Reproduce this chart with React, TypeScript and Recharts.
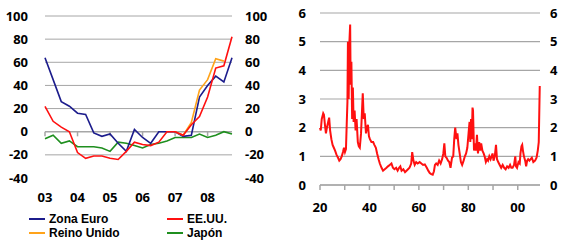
import {
  LineChart,
  Line,
  XAxis,
  YAxis,
  CartesianGrid,
  ReferenceLine,
} from "recharts";

// left panel: quarterly, 2003Q1 - 2008Q4
const quarters = [
  "03-1", "03-2", "03-3", "03-4",
  "04-1", "04-2", "04-3", "04-4",
  "05-1", "05-2", "05-3", "05-4",
  "06-1", "06-2", "06-3", "06-4",
  "07-1", "07-2", "07-3", "07-4",
  "08-1", "08-2", "08-3", "08-4",
];
const yearStarts = ["03-1", "04-1", "05-1", "06-1", "07-1", "08-1"];
const zonaEuro = [64, 45, 26, 22, 16, 15, -1, -4, -2, -10, -17, 2, -5, -10, 0, 0, 0, -4, -3, 30, 40, 48, 43, 64];
const eeuu = [22, 9, 4, 0, -18, -23, -21, -21, -23, -24, -17, -9, -11, -12, -9, 0, 0, -3, 6, 13, 30, 55, 57, 82];
const reinoUnido = [null, null, null, null, null, null, null, null, null, null, null, null, null, null, null, null, 0, -3, 8, 36, 45, 63, 61, null];
const japon = [-6, -3, -10, -8, -13, -13, -13, -14, -17, -9, -10, -12, -14, -11, -10, -8, -5, -5, -5, -2, -5, -3, 0, -2];
const leftTicks = [-40, -20, 0, 20, 40, 60, 80, 100];
const leftGrid = [-20, 20, 40, 60, 80, 100];

// right panel: long history
const ratioYears = [
  1920.0, 1920.3, 1920.7, 1921.3, 1921.6, 1922.0, 1922.4, 1922.8, 1923.3, 1923.7,
  1924.1, 1924.6, 1925.1, 1925.6, 1926.1, 1926.7, 1927.3, 1927.8, 1928.3, 1928.8,
  1929.3, 1929.7, 1930.1, 1930.5, 1930.8, 1931.1, 1931.3, 1931.6, 1931.9, 1932.2,
  1932.4, 1932.7, 1933.0, 1933.3, 1933.6, 1934.0, 1934.4, 1934.8, 1935.3, 1935.7,
  1936.1, 1936.6, 1937.0, 1937.3, 1937.7, 1938.1, 1938.6, 1939.0, 1939.4, 1939.8,
  1940.2, 1940.8, 1941.5, 1942.0, 1942.6, 1943.1, 1943.7, 1944.2, 1944.9, 1945.5,
  1946.2, 1946.9, 1947.5, 1948.2, 1948.9, 1949.5, 1950.1, 1950.8, 1951.4, 1952.0,
  1952.5, 1953.0, 1953.7, 1954.4, 1955.0, 1955.6, 1956.2, 1956.9, 1957.3, 1957.8,
  1958.3, 1958.9, 1959.5, 1960.3, 1961.0, 1961.7, 1962.4, 1963.2, 1963.8, 1964.4,
  1965.0, 1965.6, 1966.1, 1966.5, 1967.0, 1967.6, 1968.2, 1968.8, 1969.4, 1969.9,
  1970.3, 1970.7, 1971.2, 1971.8, 1972.3, 1972.8, 1973.4, 1973.9, 1974.3, 1974.7,
  1975.2, 1975.6, 1976.0, 1976.5, 1977.0, 1977.5, 1978.1, 1978.6, 1979.1, 1979.6,
  1980.1, 1980.5, 1980.8, 1981.1, 1981.4, 1981.7, 1981.9, 1982.3, 1982.7, 1983.1,
  1983.5, 1983.9, 1984.4, 1984.8, 1985.2, 1985.7, 1986.2, 1986.6, 1987.1, 1987.6,
  1988.0, 1988.5, 1989.0, 1989.4, 1989.8, 1990.2, 1990.7, 1991.2, 1991.6, 1992.1,
  1992.7, 1993.3, 1993.9, 1994.5, 1995.1, 1995.7, 1996.3, 1996.9, 1997.4, 1997.9,
  1998.5, 1999.0, 1999.3, 1999.7, 2000.3, 2000.8, 2001.1, 2001.5, 2001.8, 2002.1,
  2002.5, 2003.0, 2003.4, 2003.8, 2004.2, 2004.7, 2005.2, 2005.7, 2006.3, 2007.0,
  2007.6, 2008.1, 2008.5, 2008.9,
];
const ratioValues = [
  2.0, 1.9, 2.3, 2.5, 2.45, 2.1, 1.8, 2.0, 2.2, 2.35,
  1.9, 1.6, 1.4, 1.3, 1.2, 1.05, 0.95, 0.85, 0.9, 1.0,
  1.15, 1.3, 1.15, 1.25, 2.1, 2.9, 5.0, 3.0, 5.0, 5.6,
  3.5, 4.3, 2.3, 3.4, 2.2, 2.6, 1.9, 2.3, 1.5, 1.35,
  1.3, 1.8, 2.6, 3.2, 2.3, 2.5, 1.8, 2.0, 2.1, 1.7,
  1.6, 1.5, 1.5, 1.4, 1.3, 1.1, 0.9, 0.75, 0.6, 0.5,
  0.55, 0.6, 0.65, 0.7, 0.75, 0.6, 0.55, 0.6, 0.5, 0.6,
  0.65, 0.5, 0.55, 0.45, 0.5, 0.55, 0.6, 0.75, 1.15, 0.85,
  0.7, 0.8, 0.75, 0.8, 0.75, 0.7, 0.72, 0.6, 0.5, 0.42,
  0.38, 0.36, 0.48, 0.7, 0.75, 0.7, 0.85, 0.75, 0.9, 1.1,
  1.45, 1.0, 0.95, 0.85, 0.8, 0.6, 0.95, 1.0, 1.6, 2.0,
  1.6, 1.8, 1.4, 1.1, 0.8, 0.7, 0.85, 1.0, 1.1, 1.3,
  1.8, 2.2, 1.5, 2.3, 1.6, 2.7, 2.6, 1.2, 1.45, 1.2,
  1.75, 1.1, 1.5, 1.2, 1.45, 1.2, 1.1, 1.0, 0.8, 0.9,
  0.85, 1.0, 0.9, 1.0, 1.1, 0.85, 1.0, 1.4, 0.9, 0.8,
  0.7, 0.6, 0.7, 0.6, 0.55, 0.65, 0.6, 0.7, 0.6, 0.6,
  0.7, 1.0, 0.65, 0.6, 0.8, 0.75, 1.1, 1.35, 1.4, 1.2,
  1.0, 0.85, 0.65, 0.85, 0.9, 0.85, 0.9, 0.95, 0.8, 0.85,
  0.95, 1.2, 1.5, 3.45,
];
const decadeTicks = [1920, 1930, 1940, 1950, 1960, 1970, 1980, 1990, 2000];
const labelledDecades = [1920, 1940, 1960, 1980, 2000];
const rightTicks = [0, 1, 2, 3, 4, 5, 6];

const FONT = "'Open Sans', sans-serif";
const tickStyle = { fill: "#000", fontSize: 13, fontWeight: 700, fontFamily: FONT };
const GRID = "#a6a6a6";

const leftData = quarters.map((q, i) => ({
  q,
  zona: zonaEuro[i],
  eeuu: eeuu[i],
  uk: reinoUnido[i],
  jp: japon[i],
}));

const rightData = ratioYears.map((y, i) => ({ year: y, v: ratioValues[i] }));

const legendItems = [
  { name: "Zona Euro", color: "#1c1c8c" },
  { name: "EE.UU.", color: "#ff1010" },
  { name: "Reino Unido", color: "#ffa31a" },
  { name: "Japón", color: "#1f8f1f" },
];

function LegendBlock() {
  return (
    <div
      style={{
        position: "absolute",
        left: 29,
        top: 212,
        display: "grid",
        gridTemplateColumns: "138px 120px",
        fontFamily: "'Liberation Sans', Arial, sans-serif",
        fontWeight: 700,
        fontSize: 12,
        lineHeight: "14px",
      }}
    >
      {legendItems.map((it) => (
        <div key={it.name} style={{ display: "flex", alignItems: "center", height: 14 }}>
          <span style={{ width: 16, height: 2, background: it.color, marginRight: 4 }} />
          <span>{it.name}</span>
        </div>
      ))}
    </div>
  );
}

export default function App() {
  return (
    <div
      style={{
        position: "absolute",
        left: 0,
        top: 0,
        width: 572,
        height: 241,
        background: "#fff",
        overflow: "hidden",
      }}
    >
      <div style={{ position: "absolute", left: 0, top: 0 }}>
        <LineChart width={290} height={210} data={leftData} margin={{ top: 16, right: 0, bottom: 2, left: 0 }}>
          <XAxis
            dataKey="q"
            interval={3}
            axisLine={false}
            tickLine={false}
            tickSize={0}
            tickMargin={15}
            height={30}
            tick={tickStyle}
            tickFormatter={(q: string) => q.slice(0, 2)}
          />
          <YAxis
            yAxisId="left"
            domain={[-40, 100]}
            ticks={leftTicks}
            width={45}
            axisLine={false}
            tickLine={false}
            tickSize={0}
            tickMargin={17}
            tick={tickStyle}
          />
          <YAxis
            yAxisId="right"
            orientation="right"
            domain={[-40, 100]}
            ticks={leftTicks}
            width={58}
            axisLine={false}
            tickLine={false}
            tickSize={0}
            tickMargin={13}
            tick={tickStyle}
          />
          {leftGrid.map((v) => (
            <ReferenceLine key={v} yAxisId="left" y={v} stroke={GRID} strokeWidth={1} />
          ))}
          <ReferenceLine yAxisId="left" y={0} stroke={GRID} strokeWidth={1.5} />
          {yearStarts.map((q) => (
            <ReferenceLine
              key={q}
              yAxisId="left"
              segment={[{ x: q, y: 0 }, { x: q, y: -4 }]}
              stroke={GRID}
              strokeWidth={1.5}
            />
          ))}
          {/* invisible copy so the right-hand axis gets drawn */}
          <Line yAxisId="right" dataKey="jp" stroke="none" dot={false} activeDot={false} isAnimationActive={false} />
          <Line yAxisId="left" dataKey="jp" stroke="#1f8f1f" strokeWidth={1.6} dot={false} isAnimationActive={false} />
          <Line yAxisId="left" dataKey="zona" stroke="#1c1c8c" strokeWidth={1.6} dot={false} isAnimationActive={false} />
          <Line yAxisId="left" dataKey="uk" stroke="#ffa31a" strokeWidth={1.6} dot={false} isAnimationActive={false} />
          <Line yAxisId="left" dataKey="eeuu" stroke="#ff1010" strokeWidth={1.6} dot={false} isAnimationActive={false} />
        </LineChart>
      </div>
      <LegendBlock />
      <div style={{ position: "absolute", left: 290, top: 0 }}>
        <LineChart width={282} height={241} data={rightData} margin={{ top: 13, right: 0, bottom: 26, left: 0 }}>
          <CartesianGrid vertical={false} stroke={GRID} strokeWidth={1.2} yAxisId="l" />
          <XAxis
            dataKey="year"
            type="number"
            domain={[1920, 2009]}
            ticks={decadeTicks}
            height={30}
            axisLine={{ stroke: GRID, strokeWidth: 1.5 }}
            tickLine={{ stroke: GRID, strokeWidth: 1.5 }}
            tickSize={5}
            tickMargin={13}
            tick={tickStyle}
            tickFormatter={(y: number) => (labelledDecades.includes(y) ? String(y).slice(2) : "")}
          />
          <YAxis
            yAxisId="l"
            domain={[0, 6]}
            ticks={rightTicks}
            width={30}
            axisLine={false}
            tickLine={false}
            tickSize={0}
            tickMargin={14}
            tick={tickStyle}
          />
          <YAxis
            yAxisId="r"
            orientation="right"
            domain={[0, 6]}
            ticks={rightTicks}
            width={32}
            axisLine={false}
            tickLine={false}
            tickSize={0}
            tickMargin={10}
            tick={tickStyle}
          />
          <Line yAxisId="r" dataKey="v" stroke="none" dot={false} activeDot={false} isAnimationActive={false} />
          <Line yAxisId="l" dataKey="v" stroke="#ff1010" strokeWidth={2} dot={false} isAnimationActive={false} />
        </LineChart>
      </div>
    </div>
  );
}
